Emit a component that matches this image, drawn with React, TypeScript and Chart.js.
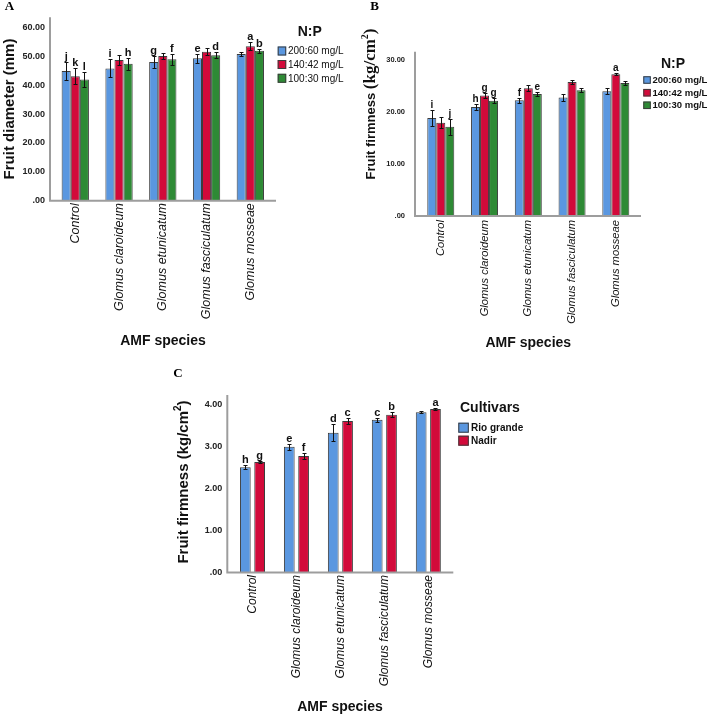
import { useEffect, useRef } from "react";
import { Chart, registerables } from "chart.js";

Chart.register(...registerables);

// ---- data ----
const species = ["Control", "Glomus claroideum", "Glomus etunicatum", "Glomus fasciculatum", "Glomus mosseae"];
const npLevels = ["200:60 mg/L", "140:42 mg/L", "100:30 mg/L"];
const cultivars = ["Rio grande", "Nadir"];

// A: fruit diameter (mm)
const diameter200 = [44.9, 45.8, 48.0, 49.3, 50.8];
const diameter140 = [43.1, 48.7, 50.1, 51.6, 53.5];
const diameter100 = [42.0, 47.4, 49.0, 50.4, 51.9];
const diameterErr200 = [3.0, 3.1, 2.1, 1.5, 0.7];
const diameterErr140 = [2.7, 1.6, 1.2, 1.1, 1.4];
const diameterErr100 = [2.6, 2.1, 1.9, 1.1, 0.7];
const diameterLetters200 = ["j", "i", "g", "e", ""];
const diameterLetters140 = ["k", "", "", "", "a"];
const diameterLetters100 = ["l", "h", "f", "d", "b"];
const diameterTicks = [".00", "10.00", "20.00", "30.00", "40.00", "50.00", "60.00"];

// B: fruit firmness by N:P level (kg/cm2)
const firmness200 = [18.8, 20.9, 22.2, 22.7, 23.9];
const firmness140 = [17.9, 23.1, 24.5, 25.7, 27.2];
const firmness100 = [17.1, 22.1, 23.4, 24.1, 25.5];
const firmnessErr200 = [1.6, 0.5, 0.5, 0.6, 0.6];
const firmnessErr140 = [1.1, 0.5, 0.6, 0.3, 0.25];
const firmnessErr100 = [1.5, 0.45, 0.45, 0.4, 0.3];
const firmnessLetters200 = ["i", "h", "f", "", ""];
const firmnessLetters140 = ["", "g", "", "", "a"];
const firmnessLetters100 = ["j", "g", "e", "", ""];
const firmnessTicks = [".00", "10.00", "20.00", "30.00"];

// C: fruit firmness by cultivar (kg/cm2)
const rioGrande = [2.5, 2.99, 3.32, 3.63, 3.81];
const nadir = [2.63, 2.77, 3.6, 3.75, 3.89];
const rioGrandeErr = [0.05, 0.07, 0.2, 0.05, 0.02];
const nadirErr = [0.02, 0.06, 0.07, 0.06, 0.03];
const rioGrandeLetters = ["h", "e", "d", "c", ""];
const nadirLetters = ["g", "f", "c", "b", "a"];
const cultivarTicks = [".00", "1.00", "2.00", "3.00", "4.00"];

// ---- styling ----
const SANS = 'Arial, "Liberation Sans", Helvetica, sans-serif';
const SERIF = '"Times New Roman", "Liberation Serif", serif';
const BLUE = "#5A97E0";
const RED = "#D20A3A";
const GREEN = "#2E8A35";
const BAR_EDGE = "#3c3c3c";
const AXIS = "#9d9d9d";
const INK = "#111111";

type Run = { text: string; font: string; dy?: number };
type Series = { label: string; color: string; values: number[]; errors: number[]; letters: string[] };
type Panel = {
  id: string;
  canvas: { x: number; y: number; w: number; h: number };
  area: { left: number; right: number; top: number; bottom: number };
  yAxisX: number;
  xAxisRight: number;
  yMax: number;
  step: number;
  yTickLabels: string[];
  yTickSize: number;
  yTickPad: number;
  xTickSize: number;
  xTickPad: number;
  cp: number;
  bp: number;
  series: Series[];
  letterFont: string;
  xTitle: { text: string; x: number; y: number; font: string };
  yTitle: { runs: Run[]; x: number; y: number; base: number };
  legend: {
    title: string;
    titleX: number;
    titleY: number;
    titleFont: string;
    titleAlign: CanvasTextAlign;
    boxX: number;
    boxW: number;
    boxH: number;
    rows: number[];
    textX: number;
    textFont: string;
  };
  tag: { text: string; x: number; y: number };
};

const panels: Panel[] = [
  {
    id: "A",
    canvas: { x: 0, y: 0, w: 354, h: 360 },
    area: { left: 53.4, right: 272.2, top: 17.3, bottom: 200.7 },
    yAxisX: 50,
    xAxisRight: 276,
    yMax: 63.5,
    step: 10,
    yTickLabels: diameterTicks,
    yTickSize: 9,
    yTickPad: 8.4,
    xTickSize: 12.5,
    xTickPad: 2.5,
    cp: 0.624,
    bp: 1,
    series: [
      { label: npLevels[0], color: BLUE, values: diameter200, errors: diameterErr200, letters: diameterLetters200 },
      { label: npLevels[1], color: RED, values: diameter140, errors: diameterErr140, letters: diameterLetters140 },
      { label: npLevels[2], color: GREEN, values: diameter100, errors: diameterErr100, letters: diameterLetters100 },
    ],
    letterFont: `bold 11px ${SANS}`,
    xTitle: { text: "AMF species", x: 163, y: 340.7, font: `bold 14px ${SANS}` },
    yTitle: { runs: [{ text: "Fruit diameter (mm)", font: `bold 15px ${SANS}` }], x: 9, y: 109, base: 5.4 },
    legend: {
      title: "N:P",
      titleX: 309.7,
      titleY: 31.7,
      titleFont: `bold 14px ${SANS}`,
      titleAlign: "center",
      boxX: 277.7,
      boxW: 8.5,
      boxH: 9,
      rows: [51, 64.5, 78.3],
      textX: 288,
      textFont: `10px ${SANS}`,
    },
    tag: { text: "A", x: 9.5, y: 6.5 },
  },
  {
    id: "B",
    canvas: { x: 354, y: 0, w: 355, h: 360 },
    area: { left: 418.9, right: 637.7, top: 51.7, bottom: 216 },
    yAxisX: 415,
    xAxisRight: 641,
    yMax: 31.5,
    step: 10,
    yTickLabels: firmnessTicks,
    yTickSize: 7.5,
    yTickPad: 13.9,
    xTickSize: 11.2,
    xTickPad: 4,
    cp: 0.617,
    bp: 1,
    series: [
      { label: npLevels[0], color: BLUE, values: firmness200, errors: firmnessErr200, letters: firmnessLetters200 },
      { label: npLevels[1], color: RED, values: firmness140, errors: firmnessErr140, letters: firmnessLetters140 },
      { label: npLevels[2], color: GREEN, values: firmness100, errors: firmnessErr100, letters: firmnessLetters100 },
    ],
    letterFont: `bold 10px ${SANS}`,
    xTitle: { text: "AMF species", x: 528.3, y: 342.7, font: `bold 14px ${SANS}` },
    yTitle: {
      runs: [
        { text: "Fruit firmness ", font: `bold 13px ${SANS}` },
        { text: "(kg/cm", font: `bold 17px ${SERIF}` },
        { text: "2", font: `bold 10px ${SERIF}`, dy: -7 },
        { text: ")", font: `bold 17px ${SERIF}` },
      ],
      x: 370,
      y: 104,
      base: 4.8,
    },
    legend: {
      title: "N:P",
      titleX: 673,
      titleY: 64,
      titleFont: `bold 14px ${SANS}`,
      titleAlign: "center",
      boxX: 643.3,
      boxW: 7.5,
      boxH: 7.5,
      rows: [80, 92.7, 105.3],
      textX: 652.5,
      textFont: `bold 9.5px ${SANS}`,
    },
    tag: { text: "B", x: 374.5, y: 6.5 },
  },
  {
    id: "C",
    canvas: { x: 150, y: 360, w: 390, h: 356 },
    area: { left: 230.5, right: 450.3, top: 395, bottom: 572.5 },
    yAxisX: 227.3,
    xAxisRight: 453.3,
    yMax: 4.22,
    step: 1,
    yTickLabels: cultivarTicks,
    yTickSize: 9,
    yTickPad: 8.2,
    xTickSize: 12,
    xTickPad: 2.5,
    cp: 0.651,
    bp: 0.75,
    series: [
      { label: cultivars[0], color: BLUE, values: rioGrande, errors: rioGrandeErr, letters: rioGrandeLetters },
      { label: cultivars[1], color: RED, values: nadir, errors: nadirErr, letters: nadirLetters },
    ],
    letterFont: `bold 11px ${SANS}`,
    xTitle: { text: "AMF species", x: 340, y: 706.7, font: `bold 14px ${SANS}` },
    yTitle: {
      runs: [
        { text: "Fruit firmness (kg/cm", font: `bold 15px ${SANS}` },
        { text: "2", font: `bold 10px ${SANS}`, dy: -7 },
        { text: ")", font: `bold 15px ${SANS}` },
      ],
      x: 183,
      y: 482,
      base: 5.4,
    },
    legend: {
      title: "Cultivars",
      titleX: 460,
      titleY: 408.3,
      titleFont: `bold 14px ${SANS}`,
      titleAlign: "left",
      boxX: 458.3,
      boxW: 10.5,
      boxH: 10,
      rows: [427.7, 440.7],
      textX: 471,
      textFont: `bold 10px ${SANS}`,
    },
    tag: { text: "C", x: 178, y: 374 },
  },
];

// Draws axis lines, error bars, group letters, titles and the legend in page coordinates.
function makeOverlay(p: Panel) {
  return {
    id: "overlay" + p.id,
    afterDraw(chart: any) {
      const ctx: CanvasRenderingContext2D = chart.ctx;
      const yScale = chart.scales.y;
      const ox = p.canvas.x;
      const oy = p.canvas.y;
      ctx.save();
      ctx.translate(-ox, -oy);

      // axes
      const zeroY = yScale.getPixelForValue(0) + oy;
      const topY = yScale.getPixelForValue(p.yMax) + oy;
      ctx.strokeStyle = AXIS;
      ctx.lineWidth = 2;
      ctx.beginPath();
      ctx.moveTo(p.yAxisX, topY);
      ctx.lineTo(p.yAxisX, zeroY);
      ctx.lineTo(p.xAxisRight, zeroY);
      ctx.stroke();

      // error bars + letters
      p.series.forEach((s, di) => {
        const meta = chart.getDatasetMeta(di);
        meta.data.forEach((el: any, i: number) => {
          const cx = Math.round(el.x + ox) + 0.5;
          const hi = Math.round(yScale.getPixelForValue(s.values[i] + s.errors[i]) + oy) + 0.5;
          const lo = Math.round(yScale.getPixelForValue(s.values[i] - s.errors[i]) + oy) + 0.5;
          ctx.strokeStyle = INK;
          ctx.lineWidth = 1;
          ctx.beginPath();
          ctx.moveTo(cx, hi);
          ctx.lineTo(cx, lo);
          ctx.moveTo(cx - 2, hi);
          ctx.lineTo(cx + 2, hi);
          ctx.moveTo(cx - 2, lo);
          ctx.lineTo(cx + 2, lo);
          ctx.stroke();
          if (s.letters[i]) {
            ctx.fillStyle = INK;
            ctx.font = p.letterFont;
            ctx.textAlign = "center";
            ctx.textBaseline = "alphabetic";
            ctx.fillText(s.letters[i], el.x + ox, hi - 3);
          }
        });
      });

      // x title
      ctx.fillStyle = INK;
      ctx.font = p.xTitle.font;
      ctx.textAlign = "center";
      ctx.textBaseline = "middle";
      ctx.fillText(p.xTitle.text, p.xTitle.x, p.xTitle.y);

      // y title (rotated, mixed runs)
      ctx.save();
      ctx.translate(p.yTitle.x, p.yTitle.y);
      ctx.rotate(-Math.PI / 2);
      ctx.textAlign = "left";
      ctx.textBaseline = "alphabetic";
      let total = 0;
      p.yTitle.runs.forEach((r) => {
        ctx.font = r.font;
        total += ctx.measureText(r.text).width;
      });
      let cursor = -total / 2;
      p.yTitle.runs.forEach((r) => {
        ctx.font = r.font;
        ctx.fillText(r.text, cursor, p.yTitle.base + (r.dy || 0));
        cursor += ctx.measureText(r.text).width;
      });
      ctx.restore();

      // legend
      const lg = p.legend;
      ctx.font = lg.titleFont;
      ctx.textAlign = lg.titleAlign;
      ctx.textBaseline = "middle";
      ctx.fillText(lg.title, lg.titleX, lg.titleY);
      chart.data.datasets.forEach((ds: any, i: number) => {
        const ry = lg.rows[i];
        ctx.fillStyle = ds.backgroundColor;
        ctx.fillRect(lg.boxX, ry - lg.boxH / 2, lg.boxW, lg.boxH);
        ctx.strokeStyle = BAR_EDGE;
        ctx.lineWidth = 1;
        ctx.strokeRect(lg.boxX + 0.5, ry - lg.boxH / 2 + 0.5, lg.boxW - 1, lg.boxH - 1);
        ctx.fillStyle = INK;
        ctx.font = lg.textFont;
        ctx.textAlign = "left";
        ctx.textBaseline = "middle";
        ctx.fillText(ds.label, lg.textX, ry + 0.5);
      });

      // panel tag
      ctx.fillStyle = "#000";
      ctx.font = `bold 13px ${SERIF}`;
      ctx.textAlign = "center";
      ctx.textBaseline = "middle";
      ctx.fillText(p.tag.text, p.tag.x, p.tag.y);

      ctx.restore();
    },
  };
}

function buildConfig(p: Panel): any {
  const L = p.area.left - p.canvas.x;
  const R = p.area.right - p.canvas.x;
  const T = p.area.top - p.canvas.y;
  const B = p.area.bottom - p.canvas.y;
  return {
    type: "bar",
    data: {
      labels: species,
      datasets: p.series.map((s) => ({
        label: s.label,
        data: s.values,
        backgroundColor: s.color,
        borderColor: BAR_EDGE,
        borderWidth: 1,
        categoryPercentage: p.cp,
        barPercentage: p.bp,
      })),
    },
    options: {
      responsive: false,
      animation: false,
      devicePixelRatio: 1,
      layout: { padding: { left: 0, top: T, right: p.canvas.w - R, bottom: 0 } },
      plugins: { legend: { display: false }, tooltip: { enabled: false } },
      scales: {
        x: {
          grid: { display: false, drawTicks: false, tickLength: 0 },
          border: { display: false },
          ticks: {
            autoSkip: false,
            minRotation: 90,
            maxRotation: 90,
            padding: p.xTickPad,
            color: INK,
            font: { family: SANS, size: p.xTickSize, style: "italic" },
          },
          afterFit: (s: any) => {
            s.height = p.canvas.h - B;
          },
        },
        y: {
          min: 0,
          max: p.yMax,
          grid: { display: false, drawTicks: false, tickLength: 0 },
          border: { display: false },
          ticks: {
            stepSize: p.step,
            includeBounds: false,
            padding: p.yTickPad,
            color: "#222",
            font: { family: SANS, size: p.yTickSize, weight: "bold" },
            callback: (_v: any, i: number) => p.yTickLabels[i],
          },
          afterFit: (s: any) => {
            s.width = L;
          },
        },
      },
    },
    plugins: [makeOverlay(p)],
  };
}

export default function App() {
  const refs = useRef<(HTMLCanvasElement | null)[]>([]);

  useEffect(() => {
    const charts = panels.map((p, i) => new Chart(refs.current[i] as HTMLCanvasElement, buildConfig(p)));
    return () => charts.forEach((c) => c.destroy());
  }, []);

  return (
    <div
      style={{
        position: "absolute",
        left: 0,
        top: 0,
        width: 709,
        height: 716,
        background: "#fff",
        overflow: "hidden",
      }}
    >
      {panels.map((p, i) => (
        <canvas
          key={p.id}
          ref={(el) => {
            refs.current[i] = el;
          }}
          width={p.canvas.w}
          height={p.canvas.h}
          style={{ position: "absolute", left: p.canvas.x, top: p.canvas.y, width: p.canvas.w, height: p.canvas.h }}
        />
      ))}
    </div>
  );
}
